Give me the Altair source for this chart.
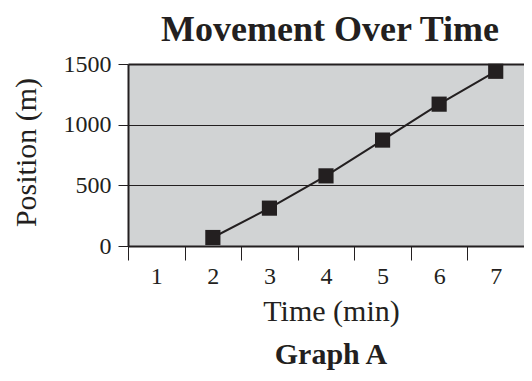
import altair as alt
import pandas as pd

# Data
categories = ["1", "2", "3", "4", "5", "6", "7"]
times = ["2", "3", "4", "5", "6", "7"]
positions = [70, 312, 578, 873, 1169, 1440]
y_ticks = [0, 500, 1000, 1500]
chart_title = "Movement Over Time"
caption_text = "Graph A"

df = pd.DataFrame({"time": times, "position": positions})

FONT = "Liberation Serif"
INK = "#231f20"

x_enc = alt.X(
    "time:N",
    scale=alt.Scale(domain=categories, paddingInner=0, paddingOuter=0),
    axis=alt.Axis(
        title="Time (min)",
        labelAngle=0,
        tickBand="extent",
        tickSize=14,
        tickColor=INK,
        tickWidth=1,
        labelPadding=4,
        labelFont=FONT,
        labelFontSize=24,
        labelColor=INK,
        domainColor=INK,
        domainWidth=2,
        grid=False,
        titleFont=FONT,
        titleFontSize=30,
        titleFontWeight="normal",
        titleColor=INK,
        titleBaseline="alphabetic",
        titleX=203,
        titleY=74,
    ),
)

y_enc = alt.Y(
    "position:Q",
    scale=alt.Scale(domain=[0, 1500], nice=False),
    axis=alt.Axis(
        title="Position (m)",
        values=y_ticks,
        format="d",
        tickSize=10,
        tickColor=INK,
        tickWidth=1,
        labelPadding=7,
        labelFont=FONT,
        labelFontSize=24,
        labelColor=INK,
        domainColor=INK,
        domainWidth=2,
        grid=True,
        gridColor=INK,
        gridWidth={"condition": {"test": "datum.value === 1500", "value": 2}, "value": 1},
        gridOpacity=1,
        titleFont=FONT,
        titleFontSize=30,
        titleFontWeight="normal",
        titleColor=INK,
        titleAngle=270,
        titleAlign="center",
        titleBaseline="alphabetic",
        titleX=-93,
        titleY=88,
    ),
)

line = alt.Chart(df).mark_line(color=INK, strokeWidth=2).encode(x=x_enc, y=y_enc)
points = alt.Chart(df).mark_point(
    shape="square", filled=True, color=INK, opacity=1, size=230
).encode(x=x_enc, y=y_enc)

title_mark = alt.Chart(pd.DataFrame({"label": [chart_title]})).mark_text(
    font=FONT, fontSize=36, fontWeight="bold", color=INK, baseline="alphabetic", align="center"
).encode(text="label:N", x=alt.value(202), y=alt.value(-23))

caption = alt.Chart(pd.DataFrame({"label": [caption_text]})).mark_text(
    font=FONT, fontSize=30, fontWeight="bold", color=INK, baseline="alphabetic", align="center"
).encode(text="label:N", x=alt.value(203), y=alt.value(300))

chart = (
    alt.layer(line, points, title_mark, caption)
    .properties(
        width=396,
        height=182,
        autosize=alt.AutoSizeParams(type="none"),
        padding={"left": 120, "top": 56, "right": 0, "bottom": 126},
    )
    .configure_view(fill="#d1d3d4", strokeWidth=0)
)

chart.save("out.html", embed_options={"renderer": "svg", "actions": False})
